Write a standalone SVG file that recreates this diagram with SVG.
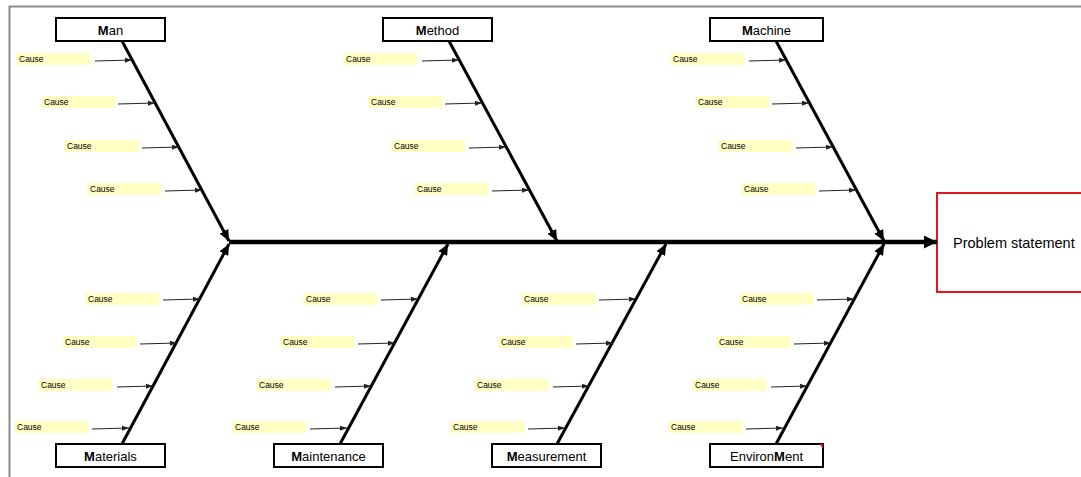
<svg xmlns="http://www.w3.org/2000/svg" width="1081" height="477" viewBox="0 0 1081 477">
  <defs>
    <style>
      .frame { stroke: #8a8a8a; stroke-width: 2; fill: none; }
      .cat rect { fill: #fff; stroke: #000; stroke-width: 2; }
      .cat text { font-family: "Liberation Sans", Arial, sans-serif; font-size: 13px; fill: #000; text-anchor: middle; }
      .cat tspan.b { font-weight: bold; }
      .bone { stroke: #000; stroke-width: 3; fill: none; marker-end: url(#boneHead); }
      .spine { stroke: #000; stroke-width: 4.5; fill: none; marker-end: url(#spineHead); }
      .cause rect { fill: #ffffc4; stroke: none; }
      .cause text { font-family: "Liberation Sans", Arial, sans-serif; font-size: 8.5px; fill: #000; }
      .sub { stroke: #222; stroke-width: 1; fill: none; marker-end: url(#subHead); }
      .effect rect { fill: #fff; stroke: #e8141b; stroke-width: 2; }
      .effect text { font-family: "Liberation Sans", Arial, sans-serif; font-size: 14.5px; fill: #000; }
    </style>
    <marker id="boneHead" markerUnits="userSpaceOnUse" markerWidth="12" markerHeight="10" refX="11" refY="5" orient="auto">
      <path d="M0,0 L11,5 L0,10 Z" fill="#000"/>
    </marker>
    <marker id="spineHead" markerUnits="userSpaceOnUse" markerWidth="14" markerHeight="14" refX="13" refY="7" orient="auto">
      <path d="M0,0.5 L13,7 L0,13.5 Z" fill="#000"/>
    </marker>
    <marker id="subHead" markerUnits="userSpaceOnUse" markerWidth="7" markerHeight="6" refX="7" refY="3" orient="auto">
      <path d="M0,0.5 L7,3 L0,5.5 Z" fill="#222"/>
    </marker>
  </defs>

  <!-- page frame -->
  <path class="frame" d="M9.5,477 L9.5,6.5 L1081,6.5"/>

  <!-- effect box -->
  <g id="problem" class="effect">
    <rect x="937" y="193" width="150" height="99"/>
    <text x="953" y="248">Problem statement</text>
  </g>

  <!-- connectors: spine, bones and cause arrows -->
  <g id="connectors">
    <line class="spine" x1="229" y1="242" x2="937" y2="242"/>

    <line class="bone" x1="122" y1="41" x2="229" y2="241"/>
    <line class="bone" x1="449" y1="41" x2="557" y2="241"/>
    <line class="bone" x1="776" y1="41" x2="884" y2="241"/>

    <line class="bone" x1="122" y1="444" x2="229" y2="244"/>
    <line class="bone" x1="340" y1="444" x2="448" y2="244"/>
    <line class="bone" x1="557" y1="444" x2="666" y2="244"/>
    <line class="bone" x1="776" y1="444" x2="884" y2="244"/>

    <!-- Man -->
    <line class="sub" x1="95" y1="61" x2="132" y2="60"/>
    <line class="sub" x1="118" y1="104" x2="155" y2="103"/>
    <line class="sub" x1="142" y1="148" x2="179" y2="147"/>
    <line class="sub" x1="165" y1="191" x2="202" y2="190"/>
    <!-- Method -->
    <line class="sub" x1="422" y1="61" x2="459" y2="60"/>
    <line class="sub" x1="445" y1="104" x2="482" y2="103"/>
    <line class="sub" x1="469" y1="148" x2="506" y2="147"/>
    <line class="sub" x1="492" y1="191" x2="529" y2="190"/>
    <!-- Machine -->
    <line class="sub" x1="749" y1="61" x2="786" y2="60"/>
    <line class="sub" x1="772" y1="104" x2="809" y2="103"/>
    <line class="sub" x1="796" y1="148" x2="833" y2="147"/>
    <line class="sub" x1="819" y1="191" x2="856" y2="190"/>

    <!-- Materials -->
    <line class="sub" x1="163" y1="300" x2="200" y2="299"/>
    <line class="sub" x1="140" y1="344" x2="177" y2="343"/>
    <line class="sub" x1="117" y1="387" x2="153" y2="386"/>
    <line class="sub" x1="92" y1="429" x2="129" y2="428"/>
    <!-- Maintenance -->
    <line class="sub" x1="381" y1="300" x2="418" y2="299"/>
    <line class="sub" x1="358" y1="344" x2="395" y2="343"/>
    <line class="sub" x1="335" y1="387" x2="371" y2="386"/>
    <line class="sub" x1="310" y1="429" x2="347" y2="428"/>
    <!-- Measurement -->
    <line class="sub" x1="599" y1="300" x2="636" y2="299"/>
    <line class="sub" x1="576" y1="344" x2="613" y2="343"/>
    <line class="sub" x1="553" y1="387" x2="589" y2="386"/>
    <line class="sub" x1="528" y1="429" x2="565" y2="428"/>
    <!-- Environment -->
    <line class="sub" x1="817" y1="300" x2="854" y2="299"/>
    <line class="sub" x1="794" y1="344" x2="831" y2="343"/>
    <line class="sub" x1="771" y1="387" x2="807" y2="386"/>
    <line class="sub" x1="746" y1="429" x2="783" y2="428"/>
  </g>

  <!-- category boxes -->
  <g id="man" class="cat"><rect x="56" y="18" width="109" height="23"/><text x="110.5" y="34.5"><tspan class="b">M</tspan>an</text></g>
  <g id="method" class="cat"><rect x="383" y="18" width="109" height="23"/><text x="437.5" y="34.5"><tspan class="b">M</tspan>ethod</text></g>
  <g id="machine" class="cat"><rect x="710" y="18" width="113" height="23"/><text x="766.5" y="34.5"><tspan class="b">M</tspan>achine</text></g>
  <g id="materials" class="cat"><rect x="56" y="444" width="109" height="23"/><text x="110.5" y="460.5"><tspan class="b">M</tspan>aterials</text></g>
  <g id="maintenance" class="cat"><rect x="274" y="444" width="109" height="23"/><text x="328.5" y="460.5"><tspan class="b">M</tspan>aintenance</text></g>
  <g id="measurement" class="cat"><rect x="492" y="444" width="109" height="23"/><text x="546.5" y="460.5"><tspan class="b">M</tspan>easurement</text></g>
  <g id="environment" class="cat"><rect x="710" y="444" width="113" height="23"/><text x="766.5" y="460.5">Environ<tspan class="b">M</tspan>ent</text><path d="M819,444 L823,444 L823,448 Z" fill="#e8141b"/></g>

  <!-- cause labels -->
  <g id="man-causes" class="cause">
    <rect x="16" y="53" width="74" height="12"/><text x="19" y="62">Cause</text>
    <rect x="41" y="96" width="74" height="12"/><text x="44" y="105">Cause</text>
    <rect x="64" y="140" width="74" height="12"/><text x="67" y="149">Cause</text>
    <rect x="87" y="183" width="74" height="12"/><text x="90" y="192">Cause</text>
  </g>
  <g id="method-causes" class="cause">
    <rect x="343" y="53" width="74" height="12"/><text x="346" y="62">Cause</text>
    <rect x="368" y="96" width="74" height="12"/><text x="371" y="105">Cause</text>
    <rect x="391" y="140" width="74" height="12"/><text x="394" y="149">Cause</text>
    <rect x="414" y="183" width="74" height="12"/><text x="417" y="192">Cause</text>
  </g>
  <g id="machine-causes" class="cause">
    <rect x="670" y="53" width="74" height="12"/><text x="673" y="62">Cause</text>
    <rect x="695" y="96" width="74" height="12"/><text x="698" y="105">Cause</text>
    <rect x="718" y="140" width="74" height="12"/><text x="721" y="149">Cause</text>
    <rect x="741" y="183" width="74" height="12"/><text x="744" y="192">Cause</text>
  </g>
  <g id="materials-causes" class="cause">
    <rect x="85" y="293" width="74" height="12"/><text x="88" y="302">Cause</text>
    <rect x="62" y="336" width="74" height="12"/><text x="65" y="345">Cause</text>
    <rect x="38" y="379" width="74" height="12"/><text x="41" y="388">Cause</text>
    <rect x="14" y="421" width="74" height="12"/><text x="17" y="430">Cause</text>
  </g>
  <g id="maintenance-causes" class="cause">
    <rect x="303" y="293" width="74" height="12"/><text x="306" y="302">Cause</text>
    <rect x="280" y="336" width="74" height="12"/><text x="283" y="345">Cause</text>
    <rect x="256" y="379" width="74" height="12"/><text x="259" y="388">Cause</text>
    <rect x="232" y="421" width="74" height="12"/><text x="235" y="430">Cause</text>
  </g>
  <g id="measurement-causes" class="cause">
    <rect x="521" y="293" width="74" height="12"/><text x="524" y="302">Cause</text>
    <rect x="498" y="336" width="74" height="12"/><text x="501" y="345">Cause</text>
    <rect x="474" y="379" width="74" height="12"/><text x="477" y="388">Cause</text>
    <rect x="450" y="421" width="74" height="12"/><text x="453" y="430">Cause</text>
  </g>
  <g id="environment-causes" class="cause">
    <rect x="739" y="293" width="74" height="12"/><text x="742" y="302">Cause</text>
    <rect x="716" y="336" width="74" height="12"/><text x="719" y="345">Cause</text>
    <rect x="692" y="379" width="74" height="12"/><text x="695" y="388">Cause</text>
    <rect x="668" y="421" width="74" height="12"/><text x="671" y="430">Cause</text>
  </g>
</svg>
